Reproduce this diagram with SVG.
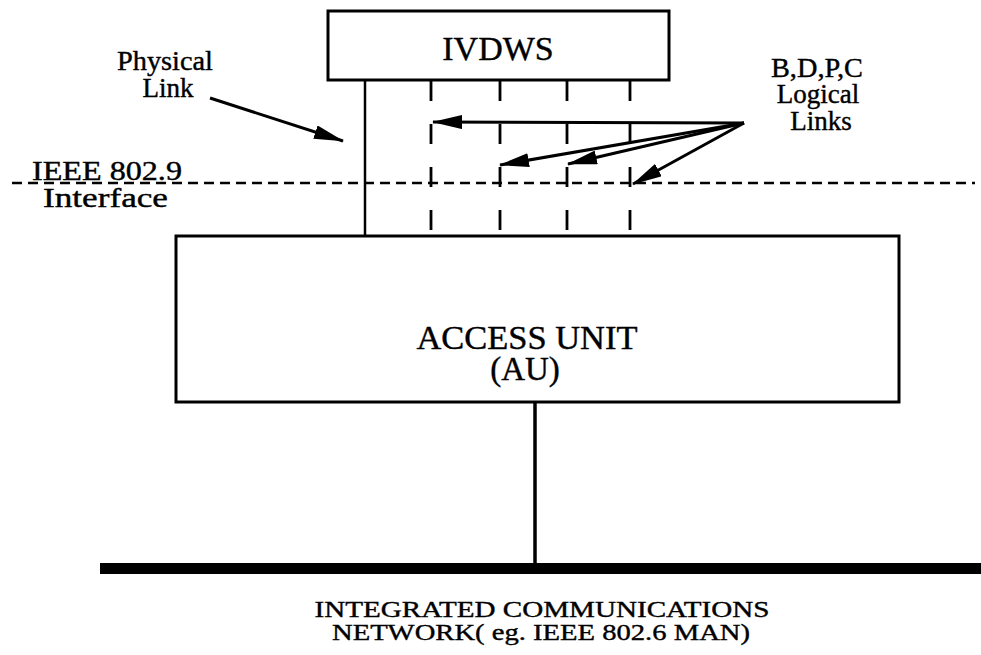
<svg xmlns="http://www.w3.org/2000/svg" width="981" height="655" viewBox="0 0 981 655">
<style>
  .box { fill: #fff; stroke: #000; stroke-width: 3; }
  .t { font-family: "Liberation Serif", "Times New Roman", serif; fill: #000; stroke: #000; stroke-width: 0.4; }
  .solid { stroke: #000; stroke-width: 2.5; fill: none; }
  .vdash { stroke: #000; stroke-width: 2.8; stroke-dasharray: 20 23; fill: none; }
  .hdash { stroke: #000; stroke-width: 2.5; stroke-dasharray: 10 6; fill: none; }
  .arrow { stroke: #000; stroke-width: 3; fill: none; marker-end: url(#ah); }
</style>
<defs>
  <marker id="ah" viewBox="0 0 30 14" refX="29" refY="7" markerUnits="userSpaceOnUse" markerWidth="30" markerHeight="14" orient="auto">
    <path d="M0,0 L30,7 L0,14 Z" fill="#000"/>
  </marker>
</defs>

<g id="connectors">
  <!-- IEEE 802.9 interface dashed line -->
  <line class="hdash" x1="12" y1="183" x2="975" y2="183"/>
  <!-- physical link -->
  <line class="solid" x1="365" y1="80" x2="365" y2="235"/>
  <!-- logical links -->
  <line class="vdash" x1="431" y1="81" x2="431" y2="235"/>
  <line class="vdash" x1="500" y1="81" x2="500" y2="235"/>
  <line class="vdash" x1="567" y1="81" x2="567" y2="235"/>
  <line class="vdash" x1="630" y1="81" x2="630" y2="235"/>
  <!-- AU to network -->
  <line x1="535" y1="402" x2="535" y2="565" stroke="#000" stroke-width="3.5"/>
  <!-- annotation arrows -->
  <line class="arrow" x1="210" y1="98" x2="343" y2="141"/>
  <line class="arrow" x1="744" y1="123" x2="433" y2="122"/>
  <line class="arrow" x1="744" y1="123" x2="500" y2="165"/>
  <line class="arrow" x1="744" y1="123" x2="568" y2="164"/>
  <line class="arrow" x1="744" y1="123" x2="633" y2="184"/>
</g>

<g id="ivdws">
  <rect class="box" x="328" y="11" width="341" height="69"/>
  <text class="t" x="498" y="60" font-size="34" text-anchor="middle">IVDWS</text>
</g>

<g id="access-unit">
  <rect class="box" x="176" y="236" width="723" height="166" stroke-width="3.5"/>
  <text class="t" x="527" y="349" font-size="33" text-anchor="middle" textLength="221" lengthAdjust="spacingAndGlyphs">ACCESS UNIT</text>
  <text class="t" x="525" y="380" font-size="33" text-anchor="middle">(AU)</text>
</g>

<g id="network">
  <rect x="100" y="563" width="881" height="11" fill="#000"/>
  <text class="t" x="542" y="617" font-size="24" text-anchor="middle" textLength="455" lengthAdjust="spacingAndGlyphs">INTEGRATED COMMUNICATIONS</text>
  <text class="t" x="541" y="640" font-size="24" text-anchor="middle" textLength="418" lengthAdjust="spacingAndGlyphs">NETWORK( eg. IEEE 802.6 MAN)</text>
</g>

<g id="label-physical">
  <text class="t" x="165" y="70" font-size="27" text-anchor="middle" textLength="96" lengthAdjust="spacingAndGlyphs">Physical</text>
  <text class="t" x="168" y="97" font-size="27" text-anchor="middle">Link</text>
</g>

<g id="label-interface">
  <text class="t" x="32" y="180" font-size="27" textLength="150" lengthAdjust="spacingAndGlyphs">IEEE 802.9</text>
  <text class="t" x="43" y="207" font-size="27" textLength="125" lengthAdjust="spacingAndGlyphs">Interface</text>
</g>

<g id="label-logical">
  <text class="t" x="817" y="77" font-size="27" text-anchor="middle" textLength="92" lengthAdjust="spacingAndGlyphs">B,D,P,C</text>
  <text class="t" x="818" y="103" font-size="27" text-anchor="middle">Logical</text>
  <text class="t" x="821" y="130" font-size="27" text-anchor="middle">Links</text>
</g>
</svg>
